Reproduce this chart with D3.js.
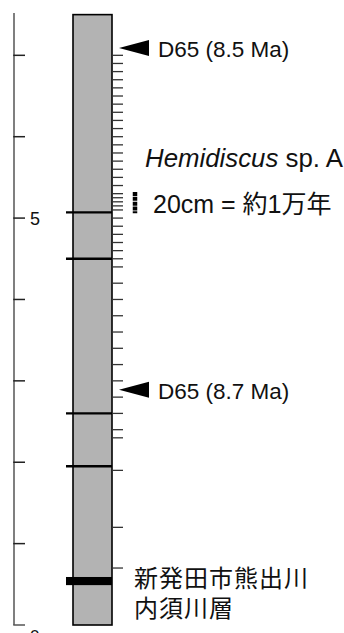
<!DOCTYPE html>
<html>
<head>
<meta charset="utf-8">
<script src="https://cdn.jsdelivr.net/npm/d3@7"></script>
<style>
  html, body { margin: 0; padding: 0; background: #fff; }
  svg { display: block; }
</style>
</head>
<body>
<div id="main-section"></div>
<script>
// depth (m) of each piece
const axisTicks = [0, 1, 2, 3, 4, 5, 6, 7];
const axisLabels = [5];
const columnRange = [0, 7.5];
const boundaryDepths = [5.07, 4.5, 2.6, 1.95];
const tuffBed = [0.49, 0.59];
const sampleDepths = [
  7.0, 6.9, 6.8, 6.7, 6.6, 6.5, 6.4, 6.3, 6.2, 6.1, 6.0, 5.9, 5.8, 5.7, 5.6, 5.5, 5.4,
  5.3, 5.25, 5.2, 5.15, 5.1, 5.0, 4.9, 4.8, 4.7, 4.6, 4.5, 4.4, 4.2, 4.0, 3.8, 3.6,
  3.4, 3.2, 3.0, 2.8, 2.6, 2.4, 2.3, 1.9, 1.2, 0.7
];
const markerDepths = [7.09, 2.89];
const markerLabels = ["D65 (8.5 Ma)", "D65 (8.7 Ma)"];
const scaleBarRange = [5.06, 5.32];
const taxonName = "Hemidiscus";
const taxonSuffix = " sp. A";
const scaleText = "20cm = 約1万年";
const localityLines = ["新発田市熊出川", "内須川層"];

const W = 344, H = 633;
const latin = "'Liberation Sans', Arial, Helvetica, sans-serif";
const cjk = "'Liberation Sans', 'Noto Sans CJK JP', sans-serif";

const svg = d3.select("#main-section")
  .append("svg")
    .attr("width", W)
    .attr("height", H);

const y = d3.scaleLinear().domain([0, 7.52]).range([625, 13]);

const axisX = 14;
const colLeft = 73, colRight = 112;

// left metre axis
svg.append("line")
  .attr("x1", axisX).attr("x2", axisX)
  .attr("y1", y(7.52)).attr("y2", y(0))
  .attr("stroke", "#555").attr("stroke-width", 1.5);

svg.selectAll(".axis-tick")
  .data(axisTicks).enter()
  .append("line")
    .attr("class", "axis-tick")
    .attr("x1", axisX - 0.75).attr("x2", axisX + 11)
    .attr("y1", d => y(d)).attr("y2", d => y(d))
    .attr("stroke", d => d === 0 ? "#555" : "#222")
    .attr("stroke-width", 1.5);

svg.selectAll(".axis-label")
  .data(axisLabels).enter()
  .append("text")
    .attr("class", "axis-label")
    .attr("x", 30)
    .attr("y", d => y(d) + 6.5)
    .attr("font-family", latin)
    .attr("font-size", 18)
    .attr("fill", "#111")
    .text(d => d);

// sits on the bottom edge, cut off as in the original
svg.append("text")
  .attr("x", 30)
  .attr("y", y(0) + 17)
  .attr("font-family", latin)
  .attr("font-size", 17)
  .attr("fill", "#111")
  .text("0 m");

// column
svg.append("rect")
  .attr("x", colLeft)
  .attr("y", y(columnRange[1]))
  .attr("width", colRight - colLeft)
  .attr("height", y(columnRange[0]) - y(columnRange[1]))
  .attr("fill", "#b3b3b3")
  .attr("stroke", "#000")
  .attr("stroke-width", 1.6);

svg.selectAll(".boundary")
  .data(boundaryDepths).enter()
  .append("line")
    .attr("class", "boundary")
    .attr("x1", colLeft - 7).attr("x2", colRight)
    .attr("y1", d => y(d)).attr("y2", d => y(d))
    .attr("stroke", "#000")
    .attr("stroke-width", 2.4);

svg.append("rect")
  .attr("x", colLeft - 7)
  .attr("y", y(tuffBed[1]))
  .attr("width", colRight - colLeft + 7)
  .attr("height", y(tuffBed[0]) - y(tuffBed[1]))
  .attr("fill", "#000");

// sample ticks
svg.selectAll(".sample")
  .data(sampleDepths).enter()
  .append("line")
    .attr("class", "sample")
    .attr("x1", colRight).attr("x2", colRight + 11)
    .attr("y1", d => y(d)).attr("y2", d => y(d))
    .attr("stroke", "#333")
    .attr("stroke-width", 1.3);

// D65 markers
const markers = svg.selectAll(".marker")
  .data(markerDepths).enter()
  .append("g")
    .attr("class", "marker")
    .attr("transform", d => "translate(0," + y(d) + ")");

markers.append("path")
  .attr("d", "M119,0 L149,-8 L149,8 Z")
  .attr("fill", "#000");

markers.append("text")
  .attr("x", 158)
  .attr("y", 9)
  .attr("font-family", latin)
  .attr("font-size", 22.5)
  .attr("fill", "#111")
  .text((d, i) => markerLabels[i]);

// taxon and scale note
const taxon = svg.append("text")
  .attr("x", 145)
  .attr("y", 167)
  .attr("font-family", latin)
  .attr("font-size", 25.8)
  .attr("fill", "#111");
taxon.append("tspan").attr("font-style", "italic").text(taxonName);
taxon.append("tspan").text(taxonSuffix);

svg.append("line")
  .attr("x1", 135).attr("x2", 135)
  .attr("y1", y(scaleBarRange[1])).attr("y2", y(scaleBarRange[0]))
  .attr("stroke", "#000")
  .attr("stroke-width", 4.5)
  .attr("stroke-dasharray", "4,0.8");

svg.append("text")
  .attr("x", 153)
  .attr("y", 213)
  .attr("font-family", cjk)
  .attr("font-size", 25)
  .attr("fill", "#111")
  .text(scaleText);

// locality
svg.selectAll(".locality")
  .data(localityLines).enter()
  .append("text")
    .attr("class", "locality")
    .attr("x", 134)
    .attr("y", (d, i) => 587 + i * 30)
    .attr("font-family", "'Noto Sans CJK JP', sans-serif")
    .attr("font-size", 24)
    .attr("letter-spacing", 1)
    .attr("fill", "#111")
    .text(d => d);
</script>
</body>
</html>
